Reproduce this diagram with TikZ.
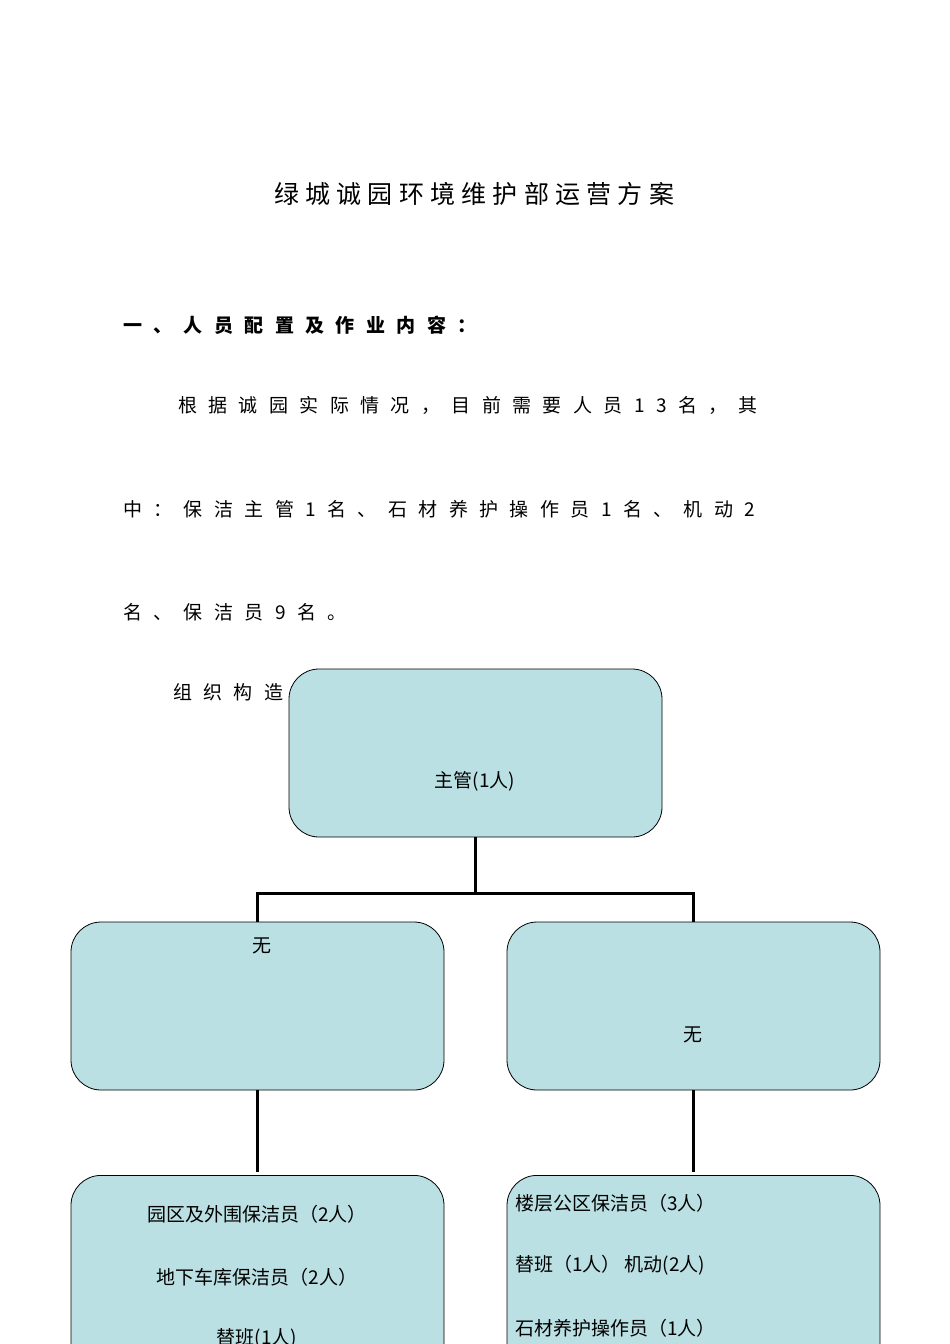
\documentclass[tikz,border=0pt]{standalone}
\usepackage{fontspec}
\setmainfont{Noto Sans CJK SC}
\newfontfamily\cjk{Noto Sans CJK SC}
\newfontfamily\spA[LetterSpace=60]{Noto Sans CJK SC}
\newfontfamily\spT[LetterSpace=25]{Noto Sans CJK SC}
\begin{document}
\begin{tikzpicture}[x=1pt,y=-1pt,
  box/.style={draw=black,fill=boxc,rounded corners=30pt,line width=0.8pt,minimum width=373pt,inner sep=0pt},
  txt/.style={font=\cjk\fontsize{19}{19}\selectfont,inner sep=0pt},
  ln/.style={line width=3pt}]
\definecolor{boxc}{HTML}{BBE0E3}
\useasboundingbox (0,0) rectangle (950,1344);
\clip (0,0) rectangle (950,1344);
\node[inner sep=0pt,font=\spT\fontsize{25}{25}\selectfont] (title) at (474,194) {绿城诚园环境维护部运营方案};
\node[anchor=west,inner sep=0pt,font=\spA\fontsize{19}{19}\bfseries\selectfont] (h1) at (123,325) {一、人员配置及作业内容：};
\node[anchor=west,inner sep=0pt,font=\spA\fontsize{19}{19}\selectfont] (p1) at (178,405) {根据诚园实际情况，目前需要人员13名，其};
\node[anchor=west,inner sep=0pt,font=\spA\fontsize{19}{19}\selectfont] (p2) at (123,509) {中：保洁主管1名、石材养护操作员1名、机动2};
\node[anchor=west,inner sep=0pt,font=\spA\fontsize{19}{19}\selectfont] (p3) at (123,612) {名、保洁员9名。};
\node[anchor=west,inner sep=0pt,font=\spA\fontsize{19}{19}\selectfont] (p4) at (173,692) {组织构造：};

\node[box,minimum height=168pt] (top) at (475.5,753) {};
\node[box,minimum height=168pt] (ml) at (257.5,1006) {};
\node[box,minimum height=168pt] (mr) at (693.5,1006) {};
\node[box,minimum height=220pt,anchor=north] (bl) at (257.5,1175) {};
\node[box,minimum height=220pt,anchor=north] (br) at (693.5,1175) {};

\node[txt] (t0) at (475,781) {主管(1人)};
\node[txt] (t1) at (262,946) {无};
\node[txt] (t2) at (693,1035) {无};
\node[txt] (t3) at (257,1214) {园区及外围保洁员（2人）};
\node[txt] (t4) at (257,1277) {地下车库保洁员（2人）};
\node[txt] (t5) at (257,1338) {替班(1人)};
\node[txt,anchor=west] (t6) at (515,1203) {楼层公区保洁员（3人）};
\node[txt,anchor=west] (t7) at (515,1265) {替班（1人） 机动(2人)};
\node[txt,anchor=west] (t8) at (515,1328) {石材养护操作员（1人）};

\coordinate (j) at (475.5,893);
\draw[ln] (top.south) -- (j);
\draw[ln] (j) -| (ml.north);
\draw[ln] (j) -| (mr.north);
\draw[ln] (ml.south) -- ++(0,82);
\draw[ln] (mr.south) -- ++(0,82);
\end{tikzpicture}
\end{document}
